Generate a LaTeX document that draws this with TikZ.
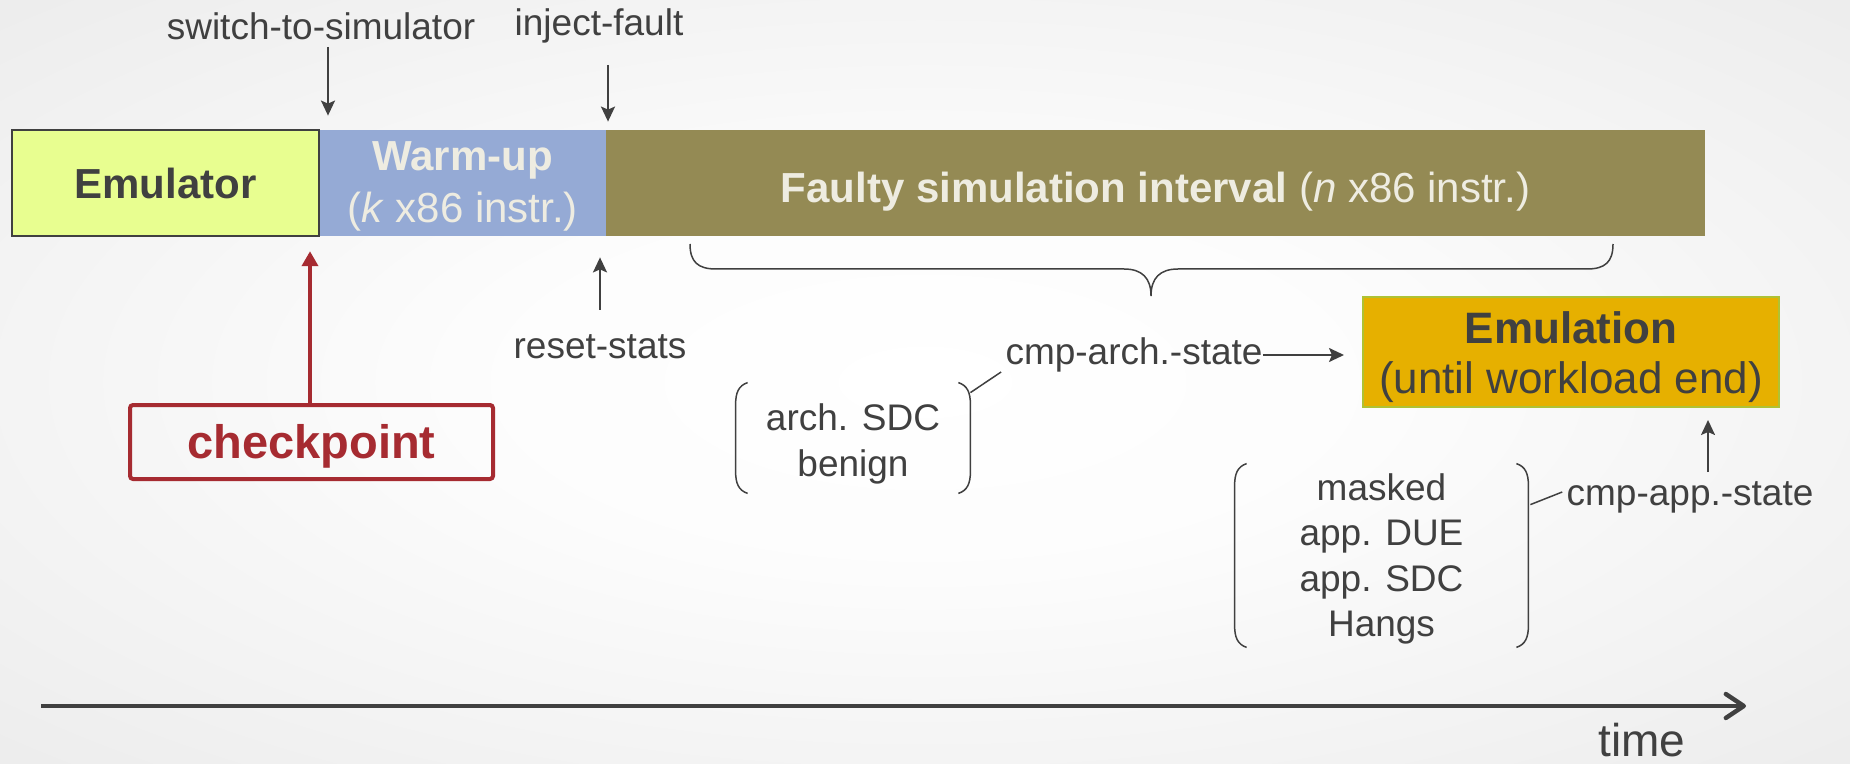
\documentclass[tikz,border=0pt]{standalone}
\usepackage{fontspec}
\setmainfont{Liberation Sans}
\usetikzlibrary{arrows.meta}
\definecolor{txt}{HTML}{404040}
\definecolor{emufill}{HTML}{E8FE90}
\definecolor{warm}{HTML}{95AAD5}
\definecolor{faulty}{HTML}{948A54}
\definecolor{light}{HTML}{EEECE1}
\definecolor{emul}{HTML}{E6B000}
\definecolor{emulborder}{HTML}{AFC234}
\definecolor{ckred}{HTML}{A62B31}
\pgfdeclareradialshading{bgshade}{\pgfpoint{0bp}{0bp}}{color(0bp)=(white); color(12bp)=(white!99!black); color(72bp)=(black!17)}
\newcommand\lowered[2]{\raisebox{-#1}[\height][\depth]{#2}}
\newcommand\drawparens[1]{%
  \draw[paren] ([xshift=6pt]#1.north west) .. controls ([xshift=1.5pt,yshift=-1.5pt]#1.north west) and ([yshift=-5pt]#1.north west) .. ([yshift=-11pt]#1.north west) -- ([yshift=11pt]#1.south west) .. controls ([yshift=5pt]#1.south west) and ([xshift=1.5pt,yshift=1.5pt]#1.south west) .. ([xshift=6pt]#1.south west);
  \draw[paren] ([xshift=-6pt]#1.north east) .. controls ([xshift=-1.5pt,yshift=-1.5pt]#1.north east) and ([yshift=-5pt]#1.north east) .. ([yshift=-11pt]#1.north east) -- ([yshift=11pt]#1.south east) .. controls ([yshift=5pt]#1.south east) and ([xshift=-1.5pt,yshift=1.5pt]#1.south east) .. ([xshift=-6pt]#1.south east);
}
\tikzset{
  lbl/.style={font=\fontsize{18.5}{22.7}\selectfont, text=txt, inner sep=0pt},
  arr/.style={draw=txt, line width=1pt, -{Stealth[length=7.5pt,width=7pt,inset=1.5pt]}},
  ckarr/.style={draw=ckred, line width=2.2pt, -{Triangle[length=7.5pt,width=8pt]}},
  seg/.style={inner sep=0pt, minimum height=53pt, font=\fontsize{21}{26}\selectfont, align=center},
  paren/.style={draw=txt, line width=0.75pt},
}
\begin{document}
\begin{tikzpicture}[x=0.5pt,y=-0.5pt]
\useasboundingbox (0,0) rectangle (1850,764);
\shade[shading=bgshade] (0,0) rectangle (1850,764);

% timeline segments
\node[seg, fill=warm, text=light, minimum width=143.5pt] (warm) at (462.5,183) {\lowered{1.5pt}{\parbox{140pt}{\centering\textbf{Warm-up}\\(\textit{k} x86 instr.)}}};
\node[seg, fill=faulty, text=light, minimum width=549.5pt] (faulty) at (1155.5,183) {\lowered{4.5pt}{\textbf{Faulty simulation interval} (\textit{n} x86 instr.)}};
\node[seg, fill=emufill, draw=txt, line width=1.2pt, text=txt, minimum width=153.5pt, font=\fontsize{21}{26}\selectfont\bfseries] (emu) at (165.5,183) {Emulator};

% emulation box
\node[seg, fill=emul, draw=emulborder, line width=1pt, minimum width=208pt, minimum height=55pt, text=txt, font=\fontsize{22}{25}\selectfont] (emulation) at (1571,352) {\lowered{2.5pt}{\parbox{205pt}{\centering\textbf{Emulation}\\(until workload end)}}};

% checkpoint
\node[draw=ckred, line width=2pt, rounded corners=1.5pt, minimum width=181.5pt, minimum height=37pt, inner sep=0pt, text=ckred, font=\fontsize{23.5}{28}\selectfont\bfseries] (ckpt) at (311.5,442) {\lowered{2.2pt}{checkpoint}};

% labels
\node[lbl] (sw) at (321,26) {switch-to-simulator};
\node[lbl] (inj) at (599,26) {inject-fault};
\node[lbl] (rst) at (600,347) {reset-stats};
\node[lbl] (ca) at (1134,355) {cmp-arch.-state};
\node[lbl] (capp) at (1690,497) {cmp-app.-state};
\node[lbl, font=\fontsize{23}{28}\selectfont, anchor=base] (time) at (1642,756) {time};

% grouped outcomes
\node[lbl, align=center, minimum width=117pt, minimum height=55pt] (g1) at (853,438) {\lowered{3pt}{\parbox{110pt}{\centering arch. SDC\\benign}}};
\node[lbl, align=center, minimum width=146.5pt, minimum height=91.5pt] (g2) at (1381.5,555.5) {\lowered{1.8pt}{\parbox{140pt}{\centering masked\\app. DUE\\app. SDC\\Hangs}}};
\drawparens{g1}
\drawparens{g2}

% arrows
\coordinate (swA) at (328,47);
\draw[arr, shorten >=7pt] (swA) -- (swA |- warm.north);
\coordinate (injA) at (608,65);
\draw[arr, shorten >=4pt] (injA) -- (injA |- faulty.north);
\coordinate (rstA) at (600,310);
\draw[arr, shorten >=10.5pt] (rstA) -- (rstA |- warm.south);
\coordinate (ckA) at (310,405);
\draw[ckarr, shorten >=7pt] (ckA) -- (ckA |- emu.south);
\draw[arr, shorten >=9pt] (ca.east) -- (emulation.west |- ca.east);
\coordinate (cappA) at (1708,472);
\draw[arr, shorten >=6pt] (cappA) -- (cappA |- emulation.south);

% connector lines from groups
\draw[paren] ([yshift=-5pt]g1.north east) -- ([xshift=-2pt,yshift=-8.5pt]ca.west);
\draw[paren] ([xshift=1pt,yshift=-20.5pt]g2.north east) -- ([xshift=-2pt,yshift=2.5pt]capp.west);

% brace under faulty interval
\coordinate (brL) at (690,244);
\coordinate (brR) at (1613,244);
\coordinate (brT) at (1151,296);
\draw[paren] (brL) .. controls (690,262) and (698,269) .. (716,269) -- (1124,269) .. controls (1142,269) and (1151,278) .. (brT) .. controls (1151,278) and (1160,269) .. (1178,269) -- (1587,269) .. controls (1605,269) and (1613,262) .. (brR);

% time axis
\coordinate (axL) at (41,706);
\coordinate (axR) at (1746,706);
\draw[draw=txt, line width=2.2pt, -{Straight Barb[length=9pt,width=12pt,round]}] (axL) -- (axR);
\end{tikzpicture}
\end{document}
